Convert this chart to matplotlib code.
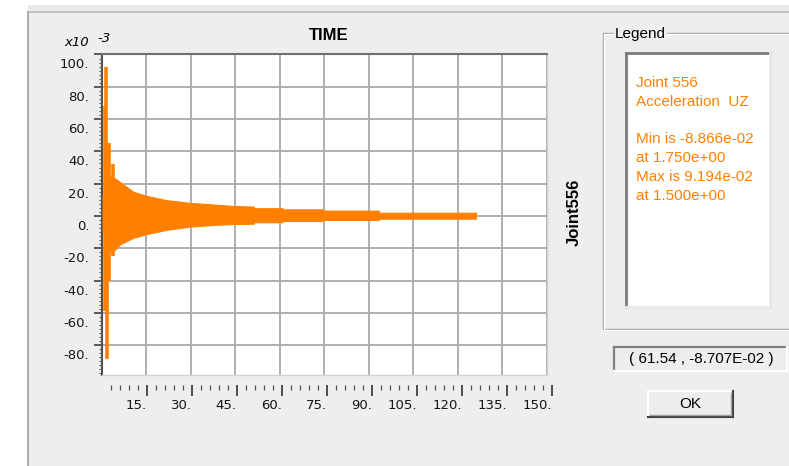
import numpy as np
import matplotlib
matplotlib.use("Agg")
import matplotlib.pyplot as plt
from matplotlib.patches import Rectangle
from matplotlib.ticker import FixedLocator, MultipleLocator, FuncFormatter
from matplotlib.transforms import ScaledTranslation

# Datos (aceleracion UZ, x10^-3)
env_t = [0.3, 0.9, 0.9, 1.3, 3.9, 6.2, 10.7, 15.2, 21.9, 29.8, 37.6, 44.4,
         51.3, 51.3, 61.0, 61.0, 74.5, 74.5, 93.5, 93.5, 126.2]
env_hi = [12.0, 12.0, 24.0, 24.5, 24.0, 21.0, 14.9, 12.4, 9.8, 8.1, 7.1, 6.2,
          5.8, 4.8, 4.8, 4.1, 4.1, 3.3, 3.3, 2.0, 2.0]
env_lo = [-9.0, -9.0, -20.0, -22.0, -22.0, -17.5, -13.5, -11.2, -8.6, -6.6, -5.6, -5.0,
          -4.8, -3.9, -3.9, -3.1, -3.1, -2.5, -2.5, -1.7, -1.7]

spike_t = [1.0, 1.0, 1.5, 1.75, 2.5, 2.6, 3.9, 3.9]
spike_v = [68.0, -59.0, 91.94, -88.66, 45.0, -40.0, 32.0, -25.0]

y_ticks = [-80, -60, -40, -20, 0, 20, 40, 60, 80, 100]
x_ticks = [15, 30, 45, 60, 75, 90, 105, 120, 135, 150]

legend_lines = ["Joint 556", "Acceleration  UZ", "", "Min is -8.866e-02",
                "at 1.750e+00", "Max is 9.194e-02", "at 1.500e+00"]
coord_text = "( 61.54 , -8.707E-02 )"

W, H = 789, 466
ORANGE = "#ff8000"
DLG = "#eeeeee"
FONT = "Liberation Sans"


def rect(l, t, r, b):
    return [l / W, 1 - b / H, (r - l) / W, (b - t) / H]


fig = plt.figure(figsize=(W / 100, H / 100), dpi=100)
fig.patch.set_facecolor("white")

# fondo del dialogo en pixeles
bg = fig.add_axes([0, 0, 1, 1], zorder=0)
bg.set_xlim(0, W)
bg.set_ylim(H, 0)
bg.axis("off")
bg.add_patch(Rectangle((28, 5), W, H, facecolor="#e9e9e9", edgecolor="none"))
bg.add_patch(Rectangle((28, 12), W, H, facecolor=DLG, edgecolor="none"))
bg.plot([28, W], [12, 12], color="#b8b8b8", lw=1.2)
bg.plot([28, 28], [12, H], color="#a0a0a0", lw=1.2)


def sunken(l, t, r, b, face, dark="#808080", light="#ffffff", lw=1.6):
    bg.add_patch(Rectangle((l, t), r - l, b - t, facecolor=face, edgecolor="none"))
    bg.plot([l, r], [t, t], color=dark, lw=lw)
    bg.plot([l, l], [t, b], color=dark, lw=lw)
    bg.plot([l, r], [b, b], color=light, lw=lw)
    bg.plot([r, r], [t, b], color=light, lw=lw)


# grupo "Legend" (linea grabada)
for off, col in [(0, "#a0a0a0"), (1, "#ffffff")]:
    bg.plot([W, 603 + off, 603 + off, W], [33 + off, 33 + off, 329 + off, 329 + off],
            color=col, lw=1)
bg.text(615, 34, "Legend", fontsize=11, family=FONT, ha="left", va="center",
        bbox=dict(facecolor=DLG, edgecolor="none", pad=1))

sunken(626, 53, 770, 307, "white", dark="#7a7a7a", light="#e8e8e8", lw=2)
for i, line in enumerate(legend_lines):
    bg.text(636, 83 + i * 18.8, line, fontsize=11, family=FONT, color=ORANGE,
            ha="left", va="center")

sunken(614, 347, 787, 371, DLG, dark="#808080", light="#ffffff", lw=1.6)
bg.text(701, 359, coord_text, fontsize=11, family=FONT, ha="center", va="center")

# boton OK
bg.add_patch(Rectangle((648, 391), 85, 26, facecolor=DLG, edgecolor="none"))
bg.plot([648, 733], [391, 391], color="white", lw=1.5)
bg.plot([648, 648], [391, 417], color="white", lw=1.5)
bg.plot([648, 733], [417, 417], color="#404040", lw=1.5)
bg.plot([733, 733], [391, 417], color="#404040", lw=1.5)
bg.plot([650, 731], [415, 415], color="#a0a0a0", lw=1)
bg.plot([731, 731], [393, 415], color="#a0a0a0", lw=1)
bg.text(690.5, 404, "OK", fontsize=11, family=FONT, ha="center", va="center")

bg.text(329, 35, "TIME", fontsize=12, family=FONT, weight="bold", ha="center", va="center")
bg.text(574, 212, "Joint556", fontsize=12, family=FONT, weight="bold", rotation=90,
        ha="center", va="center")
bg.text(64, 43, "x10", fontsize=9.5, style="italic", ha="left", va="center")
bg.text(97, 38, "-3", fontsize=9.5, style="italic", ha="left", va="center")

# grafico principal
ax = fig.add_axes(rect(101.7, 54, 546.5, 375), zorder=1)
ax.set_facecolor("white")
ax.fill_between(env_t, env_hi, env_lo, color=ORANGE, lw=0.8, edgecolor=ORANGE, zorder=3)
ax.vlines(spike_t, 0, spike_v, color=ORANGE, lw=2.6, zorder=3)
ax.set_xlim(0, 150)
ax.set_ylim(-98.5, 100.3)

ax.set_xticks(x_ticks)
ax.tick_params(axis="x", length=0, labelbottom=False)
ax.set_yticks(y_ticks)
ax.yaxis.set_minor_locator(MultipleLocator(2.5))
ax.yaxis.set_major_formatter(FuncFormatter(lambda v, p: f"{v:.0f}."))
ax.tick_params(axis="y", which="major", direction="out", length=5.8, width=1.2,
               color="#404040", labelsize=9.5, pad=3.2)
ax.tick_params(axis="y", which="minor", direction="out", length=2, width=0.8,
               color="#606060")
shift = ScaledTranslation(0, -9 / 100, fig.dpi_scale_trans)
for lab in ax.get_yticklabels():
    lab.set_transform(lab.get_transform() + shift)
    lab.set_color("#151515")

ax.grid(True, color="#a9a9a9", lw=1.3, zorder=1)
ax.set_axisbelow(True)
ax.spines["left"].set_color("#505050")
ax.spines["left"].set_linewidth(1.5)
ax.spines["top"].set_color("#707070")
ax.spines["top"].set_linewidth(1.5)
for s in ["right", "bottom"]:
    ax.spines[s].set_color("#d0d0d0")
    ax.spines[s].set_linewidth(1)

# regla del eje de tiempo
ruler = fig.add_axes(rect(101.7, 384, 552, 384.5), zorder=1)
ruler.set_facecolor("none")
for s in ruler.spines.values():
    s.set_visible(False)
ruler.set_xlim(0, 150)
ruler.set_yticks([])
ruler.xaxis.set_major_locator(FixedLocator(x_ticks))
ruler.xaxis.set_minor_locator(FixedLocator([v for v in range(3, 151, 3) if v % 15]))
ruler.xaxis.set_major_formatter(FuncFormatter(lambda v, p: f"{v:.0f}."))
ruler.tick_params(axis="x", which="major", direction="out", length=7.9, width=1.3,
                  color="#404040", labelsize=9.5, pad=2.2)
ruler.tick_params(axis="x", which="minor", direction="out", length=3.6, width=0.9,
                  color="#505050")
for lab in ruler.get_xticklabels():
    lab.set_horizontalalignment("right")
    lab.set_color("#151515")

fig.savefig("out.png", dpi=100, facecolor=fig.get_facecolor())
